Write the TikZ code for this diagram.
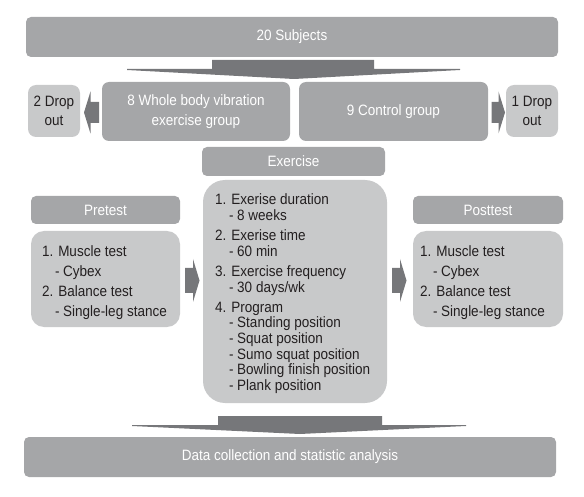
\documentclass[tikz,border=0pt]{standalone}
\usepackage{fontspec}
\setmainfont{Liberation Sans}[FakeStretch=0.9]
\definecolor{boxdark}{HTML}{A5A6A8}
\definecolor{boxlight}{HTML}{C8C9CA}
\definecolor{arrowc}{HTML}{76777A}
\definecolor{txt}{HTML}{231F20}
\begin{document}
\begin{tikzpicture}[x=1pt,y=-1pt,
  every node/.style={inner sep=0pt, outer sep=0pt},
  darkbox/.style={fill=boxdark, rounded corners=5pt, text=white, font=\fontsize{15}{19.5}\selectfont, align=center},
  lightbox/.style={fill=boxlight, rounded corners=10pt, text=txt, font=\fontsize{15}{19.5}\selectfont, align=center},
  listtext/.style={anchor=north west, align=left, text=txt},
  fatarrow/.style={fill=arrowc}]
\useasboundingbox (0,0) rectangle (584,497);

% top
\node[darkbox, minimum width=532pt, minimum height=40pt] (subj) at (292,37) {20 Subjects};
\fill[fatarrow] (212,60) -- (374,60) -- (374,69) -- (460,69) -- (460,70) -- (294,79) -- (127,70) -- (127,69) -- (212,69) -- cycle;

% groups
\node[darkbox, rounded corners=7pt, minimum width=188pt, minimum height=59pt] (wbv) at (196,111.5) {8 Whole body vibration\\exercise group};
\node[darkbox, rounded corners=7pt, minimum width=189pt, minimum height=59pt] (ctrl) at (393.5,111.5) {9 Control group};
\node[lightbox, rounded corners=8pt, minimum width=52pt, minimum height=52pt] (drop1) at (54,111) {2 Drop\\out};
\node[lightbox, rounded corners=8pt, minimum width=52pt, minimum height=52pt] (drop2) at (532,111) {1 Drop\\out};
\fill[fatarrow] (99,102) -- (90.5,102) -- (90.5,91.5) -- (84,112.5) -- (90.5,133.5) -- (90.5,123) -- (99,123) -- cycle;
\fill[fatarrow] (491.5,102) -- (498.5,102) -- (498.5,91.5) -- (505,112.5) -- (498.5,133.5) -- (498.5,123) -- (491.5,123) -- cycle;

% exercise
\node[darkbox, minimum width=183pt, minimum height=29pt] (ex) at (293.5,161.5) {Exercise};

% pretest
\node[darkbox, minimum width=149pt, minimum height=28pt] (prehd) at (105.5,210) {Pretest};
\node[lightbox, rounded corners=13pt, minimum width=149pt, minimum height=96pt] (prebody) at (105.5,279) {};
\node[listtext, font=\fontsize{15}{19.7}\selectfont] (pretxt) at (42,246.1) {1. Muscle test\\\hspace*{13pt}- Cybex\\2. Balance test\\\hspace*{13pt}- Single-leg stance};

% program
\node[lightbox, rounded corners=22pt, minimum width=184pt, minimum height=223pt] (prog) at (295,291.5) {};
\node[listtext, font=\fontsize{15}{15.7}\selectfont] (progtxt) at (215,194.1) {1. Exerise duration\\\hspace*{14pt}- 8 weeks\\[4.3pt]2. Exerise time\\\hspace*{14pt}- 60 min\\[4.3pt]3. Exercise frequency\\\hspace*{14pt}- 30 days/wk\\[4.3pt]4. Program\\\hspace*{14pt}- Standing position\\\hspace*{14pt}- Squat position\\\hspace*{14pt}- Sumo squat position\\\hspace*{14pt}- Bowling finish position\\\hspace*{14pt}- Plank position};

% posttest
\node[darkbox, minimum width=150pt, minimum height=28pt] (posthd) at (488,210) {Posttest};
\node[lightbox, rounded corners=13pt, minimum width=150pt, minimum height=96pt] (postbody) at (488,279) {};
\node[listtext, font=\fontsize{15}{19.7}\selectfont] (posttxt) at (420,246.1) {1. Muscle test\\\hspace*{13pt}- Cybex\\2. Balance test\\\hspace*{13pt}- Single-leg stance};

% side arrows
\fill[fatarrow] (185,268) -- (193,268) -- (193,259) -- (199.5,280.5) -- (193,302) -- (193,293) -- (185,293) -- cycle;
\fill[fatarrow] (392,268) -- (400,268) -- (400,259) -- (406.5,280.5) -- (400,302) -- (400,293) -- (392,293) -- cycle;

% bottom
\fill[fatarrow] (218,416) -- (382,416) -- (382,425) -- (466,425) -- (466,426) -- (300,434) -- (132,426) -- (132,425) -- (218,425) -- cycle;
\node[darkbox, minimum width=532pt, minimum height=40pt] (data) at (290,457) {Data collection and statistic analysis};
\end{tikzpicture}
\end{document}
